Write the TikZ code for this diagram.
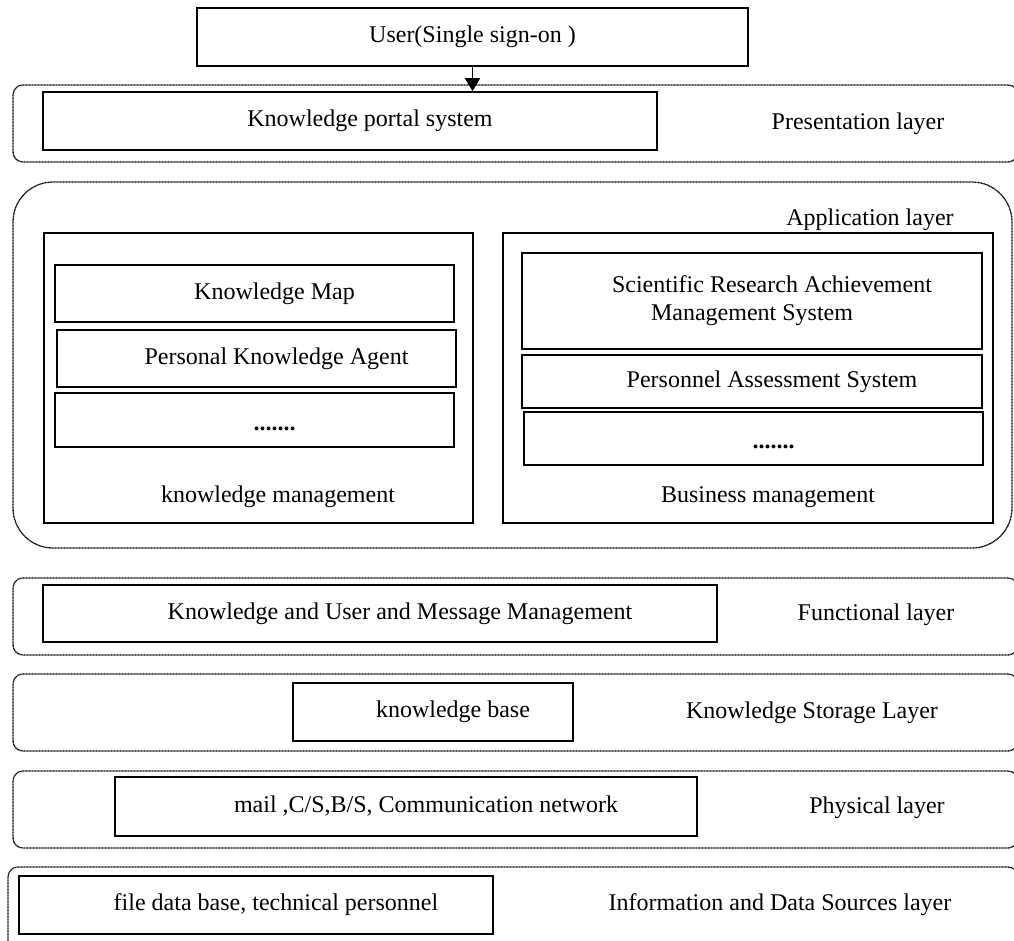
\documentclass[tikz,border=0pt]{standalone}
\usepackage{fontspec}
\setmainfont{Liberation Serif}
\usetikzlibrary{arrows.meta}
\newcommand{\ind}{\hspace*{40pt}}

\begin{document}
\begin{tikzpicture}[x=1pt, y=-1pt,
  every node/.style={font=\fontsize{24}{28}\selectfont},
  box/.style={draw, line width=1.6pt, inner sep=0pt},
  dotbox/.style={box, text height=20pt, text depth=0pt},
  layer/.style={line width=1.3pt, black, dash pattern=on 1pt off 0.5pt},
  arrow/.style={line width=1.6pt, -{Triangle[length=13pt, width=15pt]}}]

\useasboundingbox (0,0) rectangle (1014,940);
\clip (0,0) rectangle (1014,940);

\draw[layer, rounded corners=10pt] (13,85) rectangle (1018,162);
\draw[layer, rounded corners=40pt] (13,182) rectangle (1012,548);
\draw[layer, rounded corners=10pt] (13,578) rectangle (1018,655);
\draw[layer, rounded corners=10pt] (13,674) rectangle (1018,751);
\draw[layer, rounded corners=10pt] (13,771) rectangle (1018,848);
\draw[layer, rounded corners=10pt] (8,867) rectangle (1018,960);

\node[box, minimum width=551pt, minimum height=58pt] (user) at (472.5,37) {User(Single sign-on )};
\node[box, minimum width=614pt, minimum height=58pt] (portal) at (350,121) {\ind Knowledge portal system};
\node (presl) at (858,124) {Presentation layer};

\node (appl) at (870,220) {Application layer};
\node[box, minimum width=429pt, minimum height=290pt] (kmgmt) at (258.5,378) {};
\node[box, minimum width=399pt, minimum height=57pt] (kmap) at (254.5,293.5) {\ind Knowledge Map};
\node[box, minimum width=399pt, minimum height=57pt] (agent) at (256.5,358.5) {\ind Personal Knowledge Agent};
\node[dotbox, minimum width=399pt, minimum height=54pt] (kdots) at (254.5,420) {\ind\textbf{.......}};
\node (kmtext) at (278,497) {knowledge management};

\node[box, minimum width=490pt, minimum height=290pt] (bmgmt) at (748,378) {};
\node[box, align=center, minimum width=460pt, minimum height=96pt] (sram) at (752,301) {\ind Scientific Research Achievement\\Management System};
\node[box, minimum width=460pt, minimum height=53pt] (assess) at (752,381.5) {\ind Personnel Assessment System};
\node[dotbox, minimum width=459pt, minimum height=53pt] (bdots) at (753.5,438.5) {\ind\textbf{.......}};
\node (bmtext) at (768,497) {Business management};

\node[box, minimum width=674pt, minimum height=57pt] (func) at (380,613.5) {\ind Knowledge and User and Message Management};
\node (funcl) at (876,615) {Functional layer};

\node[box, minimum width=280pt, minimum height=58pt] (kbase) at (433,712) {\ind knowledge base};
\node (storl) at (812,713) {Knowledge Storage Layer};

\node[box, minimum width=582pt, minimum height=59pt] (mail) at (406,806.5) {\ind mail ,C/S,B/S, Communication network};
\node (physl) at (877,808) {Physical layer};

\node[box, minimum width=474pt, minimum height=58pt] (file) at (256,905) {\ind file data base, technical personnel};
\node (infol) at (780,905) {Information and Data Sources layer};

\draw[arrow] (user.south) -- (user.south |- portal.north);
\end{tikzpicture}
\end{document}
